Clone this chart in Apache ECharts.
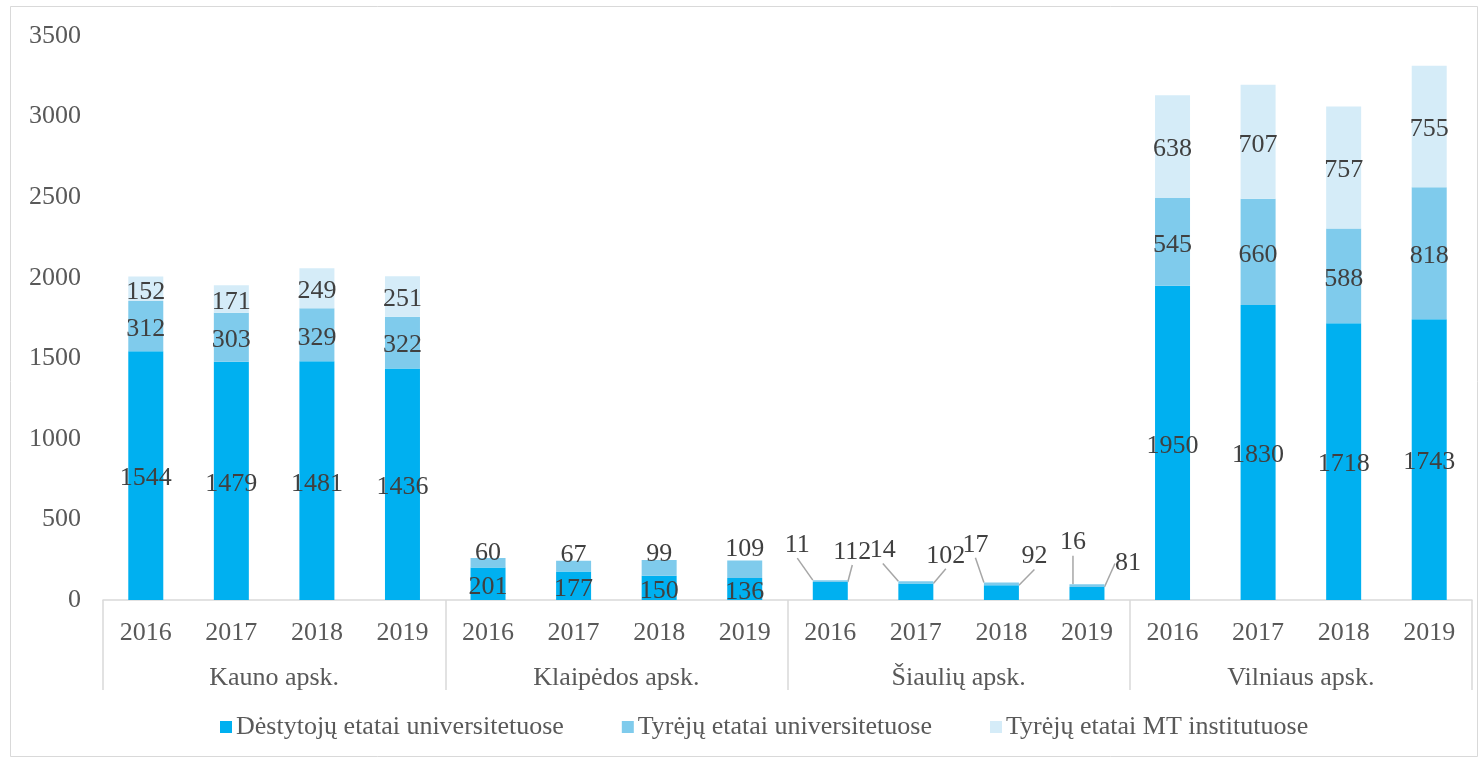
<!DOCTYPE html>
<html>
<head>
<meta charset="utf-8">
<script src="https://cdn.jsdelivr.net/npm/echarts@6/dist/echarts.min.js"></script>
<style>
html,body{margin:0;padding:0;background:#fff;}
#c{width:1481px;height:760px;}
</style>
</head>
<body>
<div id="c"></div>
<script>
const years = ['2016','2017','2018','2019','2016','2017','2018','2019','2016','2017','2018','2019','2016','2017','2018','2019'];
const groups = ['Kauno apsk.','Klaipėdos apsk.','Šiaulių apsk.','Vilniaus apsk.'];
const seriesNames = ['Dėstytojų etatai universitetuose','Tyrėjų etatai universitetuose','Tyrėjų etatai MT institutuose'];
const destytoju = [1544,1479,1481,1436, 201,177,150,136, 112,102,92,81, 1950,1830,1718,1743];
const tyreju = [312,303,329,322, 60,67,99,109, 11,14,17,16, 545,660,588,818];
const mtInst = [152,171,249,251, null,null,null,null, null,null,null,null, 638,707,757,755];
const yTicks = [0,500,1000,1500,2000,2500,3000,3500];

const colors = ['#00B0F0','#7FCBEC','#D5ECF8'];
const FONT = 'Liberation Serif';
const FS = 26;

// label offsets for crowded small bars (dataIndex -> [dx, dy, leader line])
const offD = {8:[22,-39,1],9:[30,-36,1],10:[33,-36,1],11:[41,-30,1]};
const offT = {4:[0,-10,0],5:[0,-11,0],6:[0,-14,0],7:[0,-20,0],8:[-33,-36,1],9:[-33,-32,1],10:[-26,-39,1],11:[-14,-43,1]};
const BASE_DY = 3;

function mkLayout(map){
  return function(p){
    const o = map[p.dataIndex];
    if(!o) return {dy:BASE_DY};
    return {dx:o[0], dy:o[1]};
  };
}
function mkData(arr, map){
  return arr.map((v,i) => (map[i] && map[i][2]) ? {value:v, labelLine:{show:true}} : v);
}

const labelBase = {show:true, position:'inside', color:'#404040', fontFamily:FONT, fontSize:FS,
  formatter: p => (p.value==null ? '' : String(p.value))};
const lineStyle = {color:'#a6a6a6', width:1.5};

const chart = echarts.init(document.getElementById('c'), null, {renderer:'canvas'});
chart.setOption({
  animation:false,
  backgroundColor:'#fff',
  graphic:[{type:'rect', shape:{x:10.5,y:6.5,width:1467,height:750}, style:{fill:'none', stroke:'#d9d9d9', lineWidth:1}, silent:true, z:-1}],
  grid:{left:103, right:9, top:36, bottom:160},
  legend:{
    bottom:15, left:215, itemWidth:12, itemHeight:12, itemGap:58,
    icon:'rect',
    textStyle:{fontFamily:FONT, fontSize:FS, color:'#595959', padding:[0,0,0,-1]},
    data: seriesNames
  },
  xAxis:[
    {type:'category', data:years, position:'bottom',
     axisLine:{show:true, lineStyle:{color:'#d9d9d9', width:1.5}},
     axisTick:{show:false},
     axisLabel:{color:'#595959', fontFamily:FONT, fontSize:FS, margin:20, interval:0}},
    {type:'category', data:groups, position:'bottom',
     axisLine:{show:false},
     axisTick:{show:true, length:90, lineStyle:{color:'#d9d9d9', width:1.5}},
     axisLabel:{color:'#595959', fontFamily:FONT, fontSize:FS, margin:65, interval:0}}
  ],
  yAxis:{type:'value', min:yTicks[0], max:yTicks[yTicks.length-1], interval:500,
    axisLine:{show:false}, axisTick:{show:false}, splitLine:{show:false},
    axisLabel:{color:'#595959', fontFamily:FONT, fontSize:FS, margin:22, padding:[4,0,0,0], formatter: v => String(v)}},
  series:[
    {name:seriesNames[0], type:'bar', stack:'a', data:mkData(destytoju, offD), barWidth:35,
     itemStyle:{color:colors[0]}, label:labelBase,
     labelLayout:mkLayout(offD), labelLine:{show:false, lineStyle:lineStyle}},
    {name:seriesNames[1], type:'bar', stack:'a', data:mkData(tyreju, offT), barWidth:35,
     itemStyle:{color:colors[1]}, label:labelBase,
     labelLayout:mkLayout(offT), labelLine:{show:false, lineStyle:lineStyle}},
    {name:seriesNames[2], type:'bar', stack:'a', data:mtInst, barWidth:35,
     itemStyle:{color:colors[2]}, label:labelBase,
     labelLayout:mkLayout({})}
  ]
});
</script>
</body>
</html>
